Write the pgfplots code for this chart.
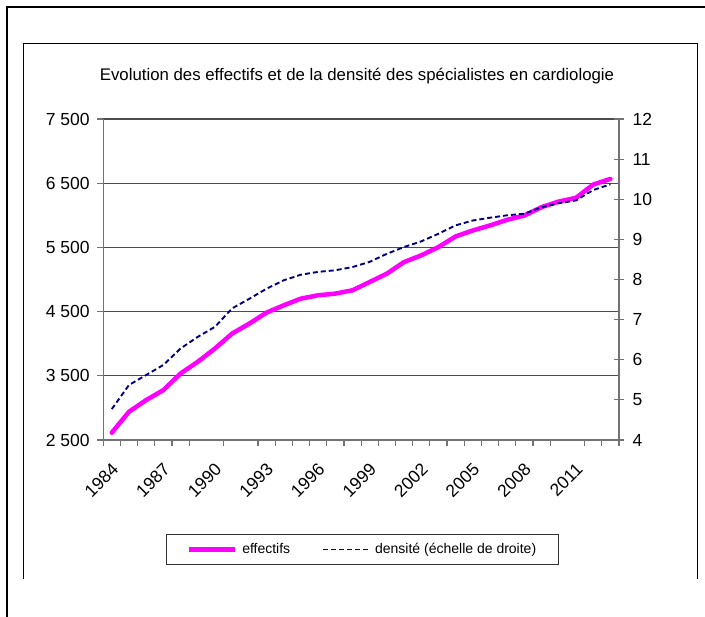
\documentclass[border=0pt]{standalone}
\usepackage{pgfplots}
\pgfplotsset{compat=1.18}
\usepackage{fontspec}
\setmainfont{Liberation Sans}
\definecolor{mag}{HTML}{FF00FF}
\definecolor{nav}{HTML}{000080}

\pgfplotstableread{
year eff
1984 2614
1985 2940
1986 3122
1987 3277
1988 3536
1989 3718
1990 3925
1991 4158
1992 4313
1993 4484
1994 4598
1995 4702
1996 4754
1997 4780
1998 4832
1999 4961
2000 5091
2001 5272
2002 5376
2003 5505
2004 5671
2005 5764
2006 5842
2007 5930
2008 5997
2009 6127
2010 6215
2011 6272
2012 6479
2013 6567
}\effectifs

\pgfplotstableread{
year dens
1984 4.77
1985 5.37
1986 5.62
1987 5.87
1988 6.28
1989 6.57
1990 6.82
1991 7.28
1992 7.52
1993 7.77
1994 7.98
1995 8.12
1996 8.19
1997 8.23
1998 8.31
1999 8.44
2000 8.64
2001 8.81
2002 8.95
2003 9.14
2004 9.35
2005 9.47
2006 9.54
2007 9.60
2008 9.64
2009 9.80
2010 9.90
2011 9.97
2012 10.23
2013 10.37
}\densite

\begin{document}
\begin{tikzpicture}[x=1pt,y=1pt]
\useasboundingbox (0,0) rectangle (705,617);
\draw[line width=2.5pt] (7,0) -- (7,610) -- (705,610);
\draw[line width=1pt] (23,38) -- (23,573) -- (697,573) -- (697,38);
\node[font=\fontsize{16.8}{19}\selectfont] at (357,541) {Evolution des effectifs et de la densité des spécialistes en cardiologie};

\begin{axis}[
  at={(103.2pt,177pt)}, anchor=south west,
  width=515.8pt, height=321pt, scale only axis,
  xmin=1983.5, xmax=2013.5, ymin=2500, ymax=7500,
  axis x line*=bottom, axis y line*=left,
  xtick={1984,1987,1990,1993,1996,1999,2002,2005,2008,2011},
  xticklabels={1984,1987,1990,1993,1996,1999,2002,2005,2008,2011},
  minor xtick={1983.5,1984.5,1985.5,1986.5,1987.5,1988.5,1990.5,1992.5,1993.5,1994.5,1995.5,1996.5,1997.5,1998.5,1999.5,2000.5,2001.5,2002.5,2003.5,2004.5,2005.5,2006.5,2007.5,2008.5,2009.5,2011.5,2012.5,2013.5},
  major tick length=0pt,
  minor tick length=6pt,
  xticklabel style={xshift=-1pt, yshift=-17pt, rotate=45, anchor=north east},
  ytick={2500,3500,4500,5500,6500,7500},
  minor ytick={2500,3500,4500,5500,6500,7500},
  yticklabels={2 500,3 500,4 500,5 500,6 500,7 500},
  yticklabel style={xshift=-10pt},
  ymajorgrids, grid style={line width=1.3pt, color=black!70},
  axis line style={line width=1.2pt, color=black!55},
  tick style={line width=1.2pt, color=black!55},
  tick align=outside,
  ticklabel style={font=\fontsize{17.5}{19}\selectfont},
  /pgf/number format/assume math mode=true,
  clip=false,
]
\addplot[mag, line width=4.5pt, line join=round, line cap=round] table[x=year, y=eff] {\effectifs};
\end{axis}

\begin{axis}[
  at={(103.2pt,177pt)}, anchor=south west,
  width=515.8pt, height=321pt, scale only axis,
  xmin=1983.5, xmax=2013.5, ymin=4, ymax=12,
  axis x line=none, axis y line*=right,
  ytick={4,5,...,12},
  yticklabel style={xshift=5pt},
  axis line style={line width=1.2pt, color=black!55},
  tick style={line width=1.2pt, color=black!55},
  major tick length=10pt,
  tick align=center,
  ticklabel style={font=\fontsize{17.5}{19}\selectfont},
  /pgf/number format/assume math mode=true,
  legend columns=2,
  legend image code/.code={\draw[#1] (0pt,0pt) -- (46pt,0pt);},
  legend style={at={(0.5027,-0.341)}, anchor=center, draw=black!80, line width=0.8pt,
    font=\fontsize{14}{16}\selectfont, inner xsep=20pt, inner ysep=7.5pt,
    /tikz/every odd column/.append style={column sep=3pt},
    /tikz/every even column/.append style={column sep=30pt}},
  clip=false,
]
\addlegendimage{mag, line width=4.5pt}
\addlegendentry{effectifs}
\addplot[nav, line width=1.9pt, dash pattern=on 5pt off 3pt] table[x=year, y=dens] {\densite};
\addlegendentry{densité (échelle de droite)}
\end{axis}
\end{tikzpicture}
\end{document}
